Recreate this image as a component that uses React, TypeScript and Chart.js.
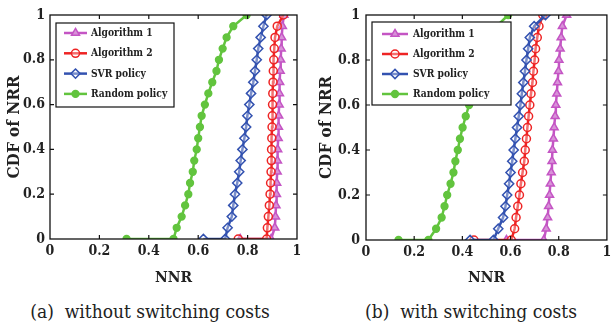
import React, { useEffect, useRef } from "react";
import { Chart, registerables } from "chart.js";

Chart.register(...registerables);

// CDF levels (y) shared by every curve: start point, end of flat part, then 0.05 steps
const cdfLevels = [0, 0, 0.05, 0.1, 0.15, 0.2, 0.25, 0.3, 0.35, 0.4, 0.45, 0.5, 0.55, 0.6, 0.65, 0.7, 0.75, 0.8, 0.85, 0.9, 0.95, 1.0];

const seriesNames = ["Algorithm 1", "Algorithm 2", "SVR policy", "Random policy"];

// (a) without switching costs : NNR values
const alg1A = [0.77, 0.895, 0.91, 0.913, 0.915, 0.917, 0.918, 0.92, 0.921, 0.922, 0.924, 0.925, 0.926, 0.928, 0.929, 0.93, 0.932, 0.934, 0.936, 0.938, 0.941, 0.947];
const alg2A = [0.762, 0.877, 0.88, 0.884, 0.888, 0.891, 0.893, 0.895, 0.896, 0.897, 0.898, 0.899, 0.9, 0.901, 0.902, 0.903, 0.904, 0.906, 0.908, 0.911, 0.92, 0.945];
const svrA = [0.621, 0.709, 0.719, 0.736, 0.742, 0.749, 0.758, 0.766, 0.772, 0.779, 0.787, 0.794, 0.799, 0.807, 0.814, 0.823, 0.83, 0.837, 0.843, 0.853, 0.864, 0.877];
const randA = [0.31, 0.5, 0.513, 0.533, 0.547, 0.56, 0.567, 0.578, 0.584, 0.594, 0.6, 0.607, 0.614, 0.627, 0.641, 0.657, 0.674, 0.684, 0.699, 0.715, 0.742, 0.796];

// (b) with switching costs : NNR values
const alg1B = [0.583, 0.738, 0.748, 0.754, 0.758, 0.762, 0.765, 0.769, 0.772, 0.774, 0.778, 0.781, 0.785, 0.788, 0.792, 0.795, 0.799, 0.801, 0.806, 0.81, 0.815, 0.833];
const alg2B = [0.448, 0.603, 0.617, 0.623, 0.63, 0.637, 0.643, 0.65, 0.657, 0.661, 0.666, 0.67, 0.675, 0.68, 0.685, 0.691, 0.695, 0.7, 0.704, 0.711, 0.718, 0.734];
const svrB = [0.432, 0.529, 0.549, 0.569, 0.579, 0.586, 0.594, 0.6, 0.607, 0.613, 0.62, 0.627, 0.634, 0.641, 0.647, 0.653, 0.66, 0.666, 0.673, 0.68, 0.698, 0.745];
const randB = [0.135, 0.259, 0.291, 0.314, 0.326, 0.337, 0.351, 0.363, 0.371, 0.381, 0.39, 0.401, 0.414, 0.428, 0.44, 0.455, 0.47, 0.485, 0.5, 0.52, 0.542, 0.59];

const xTickValues = [0, 0.2, 0.4, 0.6, 0.8, 1];
const xTickLabels = ["0", "0.2", "0.4", "0.6", "0.8", "1"];
const yTickValues = [0, 0.2, 0.4, 0.6, 0.8, 1];
const yTickLabels = ["0", "0.2", "0.4", "0.6", "0.8", "1"];

const xTitle = "NNR";
const yTitle = "CDF of NRR";
const captionA = "(a)\u00a0 without switching costs";
const captionB = "(b)\u00a0 with switching costs";

const FAM = "DejaVu Serif Condensed";

const styles = [
  { color: "#C455C4", point: "triangle", radius: 4.6, fill: "#D892D8", order: 4 },
  { color: "#EE2424", point: "circle", radius: 4, fill: "rgba(255,255,255,0.35)", order: 3 },
  { color: "#3352B0", point: "rectRot", radius: 4.6, fill: "rgba(255,255,255,0.35)", order: 2 },
  { color: "#62C43E", point: "circle", radius: 3.4, fill: "#62C43E", order: 1 },
];

function drawMarker(ctx: CanvasRenderingContext2D, kind: string, r: number, x: number, y: number) {
  ctx.beginPath();
  if (kind === "triangle") {
    ctx.moveTo(x, y - r);
    ctx.lineTo(x + r * 0.866, y + r * 0.5);
    ctx.lineTo(x - r * 0.866, y + r * 0.5);
    ctx.closePath();
  } else if (kind === "rectRot") {
    ctx.moveTo(x, y - r);
    ctx.lineTo(x + r, y);
    ctx.lineTo(x, y + r);
    ctx.lineTo(x - r, y);
    ctx.closePath();
  } else {
    ctx.arc(x, y, r, 0, Math.PI * 2);
  }
  ctx.fill();
  ctx.stroke();
}

const framePlugin = {
  id: "frameTicks",
  afterDatasetsDraw(chart: any) {
    const { ctx, chartArea } = chart;
    const { left, right, top, bottom } = chartArea;
    const xs = chart.scales.x;
    const ys = chart.scales.y;
    const tl = 4;
    ctx.save();
    ctx.strokeStyle = "#111";
    ctx.lineWidth = 1.2;
    ctx.beginPath();
    xTickValues.forEach((v) => {
      const px = xs.getPixelForValue(v);
      if (px > left + 1 && px < right - 1) {
        ctx.moveTo(px, bottom);
        ctx.lineTo(px, bottom - tl);
        ctx.moveTo(px, top);
        ctx.lineTo(px, top + tl);
      }
    });
    yTickValues.forEach((v) => {
      const py = ys.getPixelForValue(v);
      if (py > top + 1 && py < bottom - 1) {
        ctx.moveTo(left, py);
        ctx.lineTo(left + tl, py);
        ctx.moveTo(right, py);
        ctx.lineTo(right - tl, py);
      }
    });
    ctx.stroke();
    ctx.lineWidth = 1.3;
    ctx.strokeRect(left, top, right - left, bottom - top);
    ctx.restore();
  },
};

const legendPlugin = {
  id: "boxLegend",
  afterDraw(chart: any) {
    const o = chart.options.plugins.boxLegend;
    if (!o) return;
    const { ctx } = chart;
    ctx.save();
    ctx.fillStyle = "#fff";
    ctx.fillRect(o.x, o.y, o.w, o.h);
    ctx.strokeStyle = "#111";
    ctx.lineWidth = 1.2;
    ctx.strokeRect(o.x, o.y, o.w, o.h);
    seriesNames.forEach((name, i) => {
      const st = styles[i];
      const cy = o.row0 + i * o.rowStep;
      ctx.strokeStyle = st.color;
      ctx.lineWidth = 2.5;
      ctx.beginPath();
      ctx.moveTo(o.l1, cy);
      ctx.lineTo(o.l2, cy);
      ctx.stroke();
      ctx.lineWidth = 1.5;
      ctx.fillStyle = st.fill;
      drawMarker(ctx, st.point, st.radius, (o.l1 + o.l2) / 2, cy);
      ctx.fillStyle = "#222";
      ctx.font = `bold 10.2px "${FAM}"`;
      ctx.textBaseline = "middle";
      ctx.textAlign = "left";
      ctx.fillText(name, o.tx, cy + 0.5);
    });
    ctx.restore();
  },
};

function makeConfig(xsList: number[][], p: any) {
  const tickFont = { family: FAM, size: 14, weight: "bold" as const };
  return {
    type: "scatter" as const,
    data: {
      datasets: xsList.map((xs, i) => ({
        label: seriesNames[i],
        data: xs.map((x, j) => ({ x, y: cdfLevels[j] })),
        showLine: true,
        borderColor: styles[i].color,
        borderWidth: 2.5,
        pointStyle: styles[i].point,
        pointRadius: styles[i].radius,
        pointBorderWidth: 1.5,
        pointBorderColor: styles[i].color,
        pointBackgroundColor: styles[i].fill,
        order: styles[i].order,
      })),
    },
    options: {
      animation: false,
      responsive: false,
      devicePixelRatio: 1,
      layout: { padding: { left: 0, right: p.padRight, top: 15, bottom: 0 } },
      plugins: {
        legend: { display: false },
        tooltip: { enabled: false },
        boxLegend: p.legend,
      },
      scales: {
        x: {
          type: "linear",
          min: 0,
          max: 1,
          afterBuildTicks: (s: any) => {
            s.ticks = xTickValues.map((v) => ({ value: v }));
          },
          afterFit: (s: any) => {
            s.height = p.xHeight;
            s.paddingLeft = 0;
            s.paddingRight = 0;
          },
          ticks: {
            autoSkip: false,
            maxRotation: 0,
            padding: 4,
            color: "#222",
            font: tickFont,
            callback: (_v: any, i: number) => xTickLabels[i],
          },
          grid: { display: false, drawTicks: false },
          border: { display: false },
          title: {
            display: true,
            text: xTitle,
            color: "#222",
            font: { family: FAM, size: 15.5, weight: "bold" },
            padding: { top: 0, bottom: 3 },
          },
        },
        y: {
          type: "linear",
          min: 0,
          max: 1,
          afterBuildTicks: (s: any) => {
            s.ticks = yTickValues.map((v) => ({ value: v }));
          },
          afterFit: (s: any) => {
            s.width = p.yWidth;
            s.paddingTop = 0;
            s.paddingBottom = 0;
          },
          ticks: {
            autoSkip: false,
            padding: p.yPad,
            color: "#222",
            font: tickFont,
            callback: (_v: any, i: number) => yTickLabels[i],
          },
          grid: { display: false, drawTicks: false },
          border: { display: false },
          title: {
            display: true,
            text: yTitle,
            color: "#222",
            font: { family: FAM, size: 17, weight: "bold" },
            padding: { top: p.yTitlePad, bottom: 0 },
          },
        },
      },
    },
    plugins: [framePlugin, legendPlugin],
  };
}

function CdfPanel(props: { xsList: number[][]; p: any; width: number; left: number }) {
  const ref = useRef<HTMLCanvasElement | null>(null);
  useEffect(() => {
    if (!ref.current) return;
    const chart = new Chart(ref.current, makeConfig(props.xsList, props.p) as any);
    return () => chart.destroy();
  }, []);
  return (
    <canvas
      ref={ref}
      width={props.width}
      height={290}
      style={{ position: "absolute", left: props.left, top: 0, width: props.width, height: 290 }}
    />
  );
}

const panelA = {
  padRight: 9,
  xHeight: 51,
  yWidth: 50,
  yPad: 5,
  yTitlePad: 4,
  legend: { x: 56, y: 23, w: 118, h: 84, row0: 33, rowStep: 20.3, l1: 64, l2: 87, tx: 91 },
};
const panelB = {
  padRight: 0,
  xHeight: 50,
  yWidth: 60,
  yPad: 6,
  yTitlePad: 10,
  legend: { x: 66, y: 22, w: 139, h: 83, row0: 34, rowStep: 20, l1: 76, l2: 102, tx: 107 },
};

export default function App() {
  const captionStyle: React.CSSProperties = {
    position: "absolute",
    top: 297,
    fontSize: 19,
    fontFamily: `"${FAM}"`,
    color: "#222",
    whiteSpace: "nowrap",
    transform: "translateX(-50%)",
    lineHeight: "28px",
  };
  return (
    <div style={{ position: "absolute", left: 0, top: 0, width: 613, height: 329, background: "#fff", overflow: "hidden" }}>
      <CdfPanel xsList={[alg1A, alg2A, svrA, randA]} p={panelA} width={306} left={0} />
      <CdfPanel xsList={[alg1B, alg2B, svrB, randB]} p={panelB} width={307} left={306} />
      <div style={{ ...captionStyle, left: 150 }}>{captionA}</div>
      <div style={{ ...captionStyle, left: 471 }}>{captionB}</div>
    </div>
  );
}
